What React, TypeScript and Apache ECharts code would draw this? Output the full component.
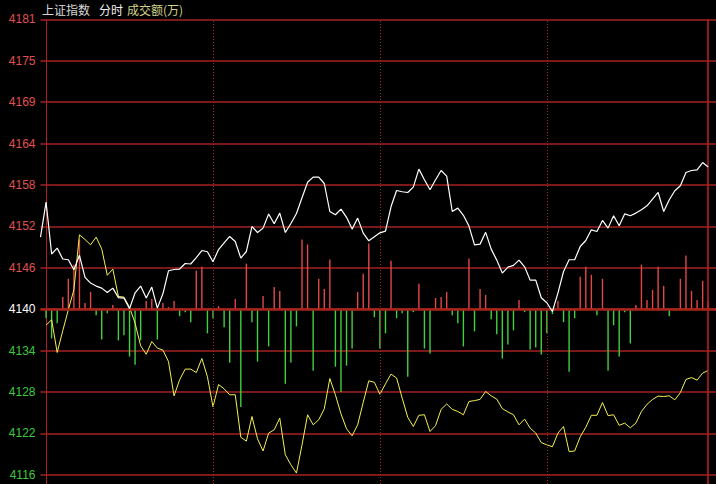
import React, { useEffect, useRef } from "react";
import * as echarts from "echarts";

// y-axis tick labels, bottom to top
const tickLabels = ["4116", "4122", "4128", "4134", "4140", "4146", "4152", "4158", "4164", "4169", "4175", "4181"];

// price line, first value is the opening point (index -1), then 120 points
const priceLine = [
  4150.26, 4155.25, 4147.85, 4148.69, 4147.14, 4147.03, 4145.6, 4147.67, 4144.53, 4143.71, 4143.28,
  4142.99, 4142.37, 4142.99, 4141.64, 4141.57, 4140.07, 4142.32, 4143.28, 4141.57, 4143.14,
  4140.14, 4142.18, 4145.46, 4145.64, 4145.71, 4146.5, 4146.43, 4147.34, 4148.35, 4148.17,
  4146.74, 4148.49, 4149.45, 4150.35, 4149.63, 4147.27, 4148.21, 4151.77, 4150.92, 4151.54,
  4153.55, 4152.16, 4153.68, 4150.92, 4152.2, 4153.62, 4155.86, 4158.07, 4158.81, 4158.81,
  4157.9, 4153.91, 4153.44, 4154.25, 4153.08, 4151.4, 4152.97, 4150.83, 4149.73, 4150.3,
  4150.87, 4151.12, 4154.62, 4156.9, 4156.72, 4156.62, 4157.39, 4159.95, 4158.43, 4157.0,
  4158.43, 4159.75, 4158.95, 4153.91, 4154.39, 4153.37, 4151.83, 4149.16, 4149.26, 4150.94,
  4148.55, 4146.98, 4145.13, 4145.99, 4146.24, 4146.98, 4146.03, 4144.13, 4144.13, 4141.61,
  4140.9, 4139.66, 4142.32, 4145.36, 4147.03, 4147.03, 4148.92, 4149.78, 4151.3, 4151.06,
  4152.63, 4151.54, 4153.3, 4151.87, 4153.58, 4153.3, 4153.68, 4154.15, 4154.72, 4155.68,
  4156.62, 4153.91, 4155.58, 4156.86, 4157.57, 4159.47, 4159.75, 4159.85, 4160.89, 4160.24,
];

// yellow line, 120 points
const avgLine = [
  4137.72, 4138.48, 4133.82, 4136.91, 4139.9, 4142.75, 4150.59, 4149.92, 4149.16, 4150.26,
  4148.59, 4144.82, 4145.7, 4141.8, 4141.71, 4140.26, 4138.0, 4134.77, 4133.56, 4135.38,
  4134.44, 4134.16, 4132.53, 4127.64, 4129.92, 4131.45, 4131.45, 4130.96, 4132.96, 4130.35,
  4126.08, 4129.25, 4128.64, 4127.79, 4127.79, 4121.73, 4121.19, 4124.69, 4121.52, 4119.78,
  4122.33, 4122.8, 4124.47, 4119.24, 4117.81, 4116.63, 4120.66, 4124.94, 4123.51, 4124.22,
  4125.79, 4130.1, 4127.79, 4125.08, 4122.94, 4121.94, 4123.51, 4126.72, 4129.78, 4129.57,
  4127.86, 4129.35, 4130.74, 4130.17, 4127.32, 4124.58, 4123.27, 4124.87, 4124.94, 4122.56,
  4123.4, 4125.72, 4126.48, 4125.71, 4125.41, 4124.94, 4126.83, 4126.96, 4127.13, 4128.26,
  4127.64, 4127.17, 4125.82, 4125.34, 4124.94, 4123.51, 4124.32, 4123.04, 4122.33, 4120.97,
  4120.66, 4120.38, 4122.33, 4123.27, 4119.69, 4119.78, 4121.8, 4123.16, 4124.87, 4124.87,
  4126.69, 4124.82, 4124.94, 4123.44, 4123.75, 4123.08, 4123.75, 4125.41, 4126.43, 4127.13,
  4127.6, 4127.54, 4127.64, 4127.07, 4128.11, 4129.97, 4130.24, 4129.88, 4130.88, 4131.25,
];

// up/down bars, 120 points
const barValues = [
  -9, -29, -14, 12, 30, 44, 69, 6, 17, -6, -30, -4, 4, -31, -26, -47, -55, -31, 8, 10,
  -30, 6, 2, 8, -7, -3, -13, 38, 42, -24, -9, 3, -18, -53, 10, -97, 45, -13, -52, 13,
  -37, 22, 18, -74, -53, -17, 69, 64, -61, 30, 20, 49, -57, -82, -56, -39, 17, 35, 65, -8,
  -39, -24, 48, -9, -4, -67, -3, 25, -39, -44, 11, 12, 17, -6, -14, -37, 50, -22, 20, 14,
  -10, -25, -49, -35, -21, 9, -3, -40, -38, -45, -24, -5, 8, -13, -62, -9, 32, 42, 34, -6,
  30, -61, -16, -47, -3, -34, 4, 44, 9, 19, 42, 23, -7, -1, 30, 53, 18, 9, 28, 8,
];

const dividers = [30, 60, 90];
const lastIndex = 119;

export default function App() {
  const ref = useRef<HTMLDivElement>(null);

  useEffect(() => {
    const chart = echarts.init(ref.current as HTMLDivElement, null, { renderer: "svg" });
    const AX_MIN = 4116.4;
    const AX_MAX = 4181.3;
    const STEP = 5.9;
    const gridRed = "#a52020";
    const labelFont = "Liberation Sans";
    const cjk = "Noto Sans CJK SC";

    chart.setOption({
      animation: false,
      backgroundColor: "#000000",
      graphic: [
        { type: "text", left: 42, top: 3, style: { text: "上证指数", fill: "#d8d8d8", font: `12px "${cjk}"` } },
        { type: "text", left: 99, top: 3, style: { text: "分时", fill: "#f0f0f0", font: `12px "${cjk}"` } },
        { type: "text", left: 127, top: 3, style: { text: "成交额(万)", fill: "#d2d28c", font: `12px "${cjk}"` } },
      ],
      grid: [
        { left: 40.5, right: 0, top: 19.3, height: 455.4 },
        { left: 40.5, right: 0, top: 19.3, bottom: 0 },
      ],
      xAxis: [
        { gridIndex: 0, type: "value", min: -1, max: 120.4, show: false },
        { gridIndex: 1, type: "value", min: -1, max: 120.4, show: false },
      ],
      yAxis: [
        {
          gridIndex: 0,
          type: "value",
          min: AX_MIN,
          max: AX_MAX,
          interval: STEP,
          axisLine: { show: false },
          axisTick: { show: false },
          splitLine: { show: true, lineStyle: { color: gridRed, width: 1.5 } },
          axisLabel: {
            margin: 5,
            formatter: (v: number) => {
              const i = Math.round((v - AX_MIN) / STEP);
              const t = tickLabels[i] ?? "";
              const s = i > 4 ? "up" : i === 4 ? "mid" : "dn";
              return `{${s}|${t}}`;
            },
            rich: {
              up: { color: "#e05050", fontSize: 12, fontFamily: labelFont },
              mid: { color: "#ffffff", fontSize: 12, fontFamily: labelFont },
              dn: { color: "#3cc83c", fontSize: 12, fontFamily: labelFont },
            },
          },
        },
        { gridIndex: 0, type: "value", min: -164, max: 287, show: false },
        {
          gridIndex: 1,
          type: "value",
          min: 0,
          max: 1,
          axisLine: { show: true, lineStyle: { color: "#b02020", width: 1 } },
          axisTick: { show: false },
          axisLabel: { show: false },
          splitLine: { show: false },
        },
      ],
      series: [
        {
          type: "line",
          xAxisIndex: 1,
          yAxisIndex: 2,
          data: [[0, 0.5]],
          showSymbol: false,
          lineStyle: { opacity: 0 },
          silent: true,
          markLine: {
            silent: true,
            symbol: ["none", "none"],
            label: { show: false },
            data: [
              ...dividers.map((d) => ({ xAxis: d, lineStyle: { type: [1, 2], color: "#b02424", width: 1 } })),
              { xAxis: lastIndex, lineStyle: { type: "solid", color: "#c02020", width: 1.5 } },
            ],
          },
        },
        {
          type: "bar",
          xAxisIndex: 0,
          yAxisIndex: 1,
          barWidth: 1.4,
          data: barValues.map((v, i) => ({
            value: [i, v],
            itemStyle: { color: i === lastIndex ? "#ff2424" : v >= 0 ? "#e04848" : "#40d040" },
          })),
          markLine: {
            silent: true,
            symbol: ["none", "none"],
            label: { show: false },
            lineStyle: { color: "#a82418", width: 2.5, type: "solid" },
            data: [{ yAxis: 0 }],
          },
        },
        {
          type: "line",
          xAxisIndex: 0,
          yAxisIndex: 0,
          data: avgLine.map((p, i) => [i, p]),
          showSymbol: false,
          lineStyle: { color: "#f4f050", width: 1 },
          z: 4,
        },
        {
          type: "line",
          xAxisIndex: 0,
          yAxisIndex: 0,
          data: priceLine.map((p, i) => [i - 1, p]),
          showSymbol: false,
          lineStyle: { color: "#ffffff", width: 1.2 },
          z: 5,
        },
      ],
    });

    return () => chart.dispose();
  }, []);

  return (
    <div
      ref={ref}
      style={{ position: "fixed", left: 0, top: 0, width: 716, height: 484, background: "#000" }}
    />
  );
}
